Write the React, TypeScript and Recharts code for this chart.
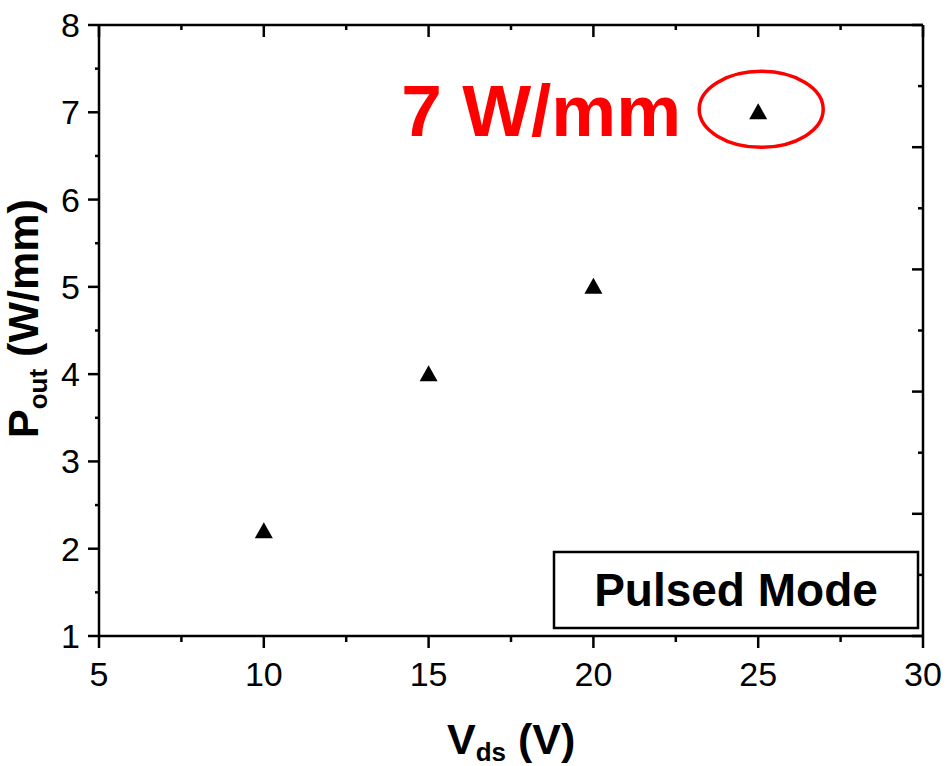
import React from 'react';
import { ScatterChart, Scatter, XAxis, YAxis, ReferenceDot } from 'recharts';

// measured points
const vds = [10, 15, 20, 25];
const pout = [2.2, 4.0, 5.0, 7.0];

const xTicks = [5, 7.5, 10, 12.5, 15, 17.5, 20, 22.5, 25, 27.5, 30];
const yTicks = [1, 1.5, 2, 2.5, 3, 3.5, 4, 4.5, 5, 5.5, 6, 6.5, 7, 7.5, 8];
const rightTicks = [0, 1, 2, 3, 4, 5, 6, 7, 8, 9, 10];

const peakX = 25;
const peakY = 7;
const peakText = '7 W/mm';
const modeText = 'Pulsed Mode';

const data = vds.map((v, i) => ({ x: v, y: pout[i] }));

const FONT = 'Arial, "Liberation Sans", Helvetica, sans-serif';
const AX = 2.5;

const BottomTick = ({ x, y, payload }: any) => {
  const major = payload.value % 5 === 0;
  return (
    <g>
      <line x1={x} x2={x} y1={y} y2={y + (major ? 12 : 6)} stroke="#000" strokeWidth={AX} />
      {major && (
        <text x={x} y={y + 50} textAnchor="middle" fontSize={34} fontFamily={FONT} fill="#000">
          {payload.value}
        </text>
      )}
    </g>
  );
};

// top frame: ticks point inward (down)
const TopTick = ({ x, y, payload }: any) => {
  const major = payload.value % 5 === 0;
  return <line x1={x} x2={x} y1={y} y2={y + (major ? 12 : 5)} stroke="#000" strokeWidth={AX} />;
};

const LeftTick = ({ x, y, payload }: any) => {
  const major = Number.isInteger(payload.value);
  return (
    <g>
      <line x1={x - (major ? 11 : 4)} x2={x} y1={y} y2={y} stroke="#000" strokeWidth={AX} />
      {major && (
        <text x={x - 19} y={y + 12} textAnchor="end" fontSize={34} fontFamily={FONT} fill="#000">
          {payload.value}
        </text>
      )}
    </g>
  );
};

// right frame: ticks point inward (left)
const RightTick = ({ x, y, payload }: any) => {
  const major = payload.value % 2 === 0;
  return <line x1={x - (major ? 11 : 5)} x2={x} y1={y} y2={y} stroke="#000" strokeWidth={AX} />;
};

const Triangle = ({ cx, cy }: any) => (
  <polygon points={`${cx},${cy - 9} ${cx + 9},${cy + 7} ${cx - 9},${cy + 7}`} fill="#000" />
);

const Nothing = () => <g />;

const PeakMark = ({ cx, cy }: any) => (
  <g>
    <ellipse cx={cx + 3} cy={cy - 3} rx={62} ry={38} fill="none" stroke="#ff0000" strokeWidth={3.5} />
    <text x={cx - 77} y={cy + 24} textAnchor="end" fontSize={73} fontWeight="bold" fontFamily={FONT} fill="#ff0000">
      {peakText}
    </text>
  </g>
);

export default function App() {
  return (
    <div style={{ position: 'absolute', left: 0, top: 0, width: 949, height: 766, background: '#fff' }}>
      <ScatterChart width={949} height={766} margin={{ top: 24, right: 25, bottom: 0, left: 0 }}>
        <XAxis
          type="number"
          dataKey="x"
          domain={[5, 30]}
          ticks={xTicks}
          height={130}
          tickSize={0}
          tickMargin={0}
          tickLine={false}
          axisLine={{ stroke: '#000', strokeWidth: AX }}
          tick={BottomTick}
          interval={0}
          allowDataOverflow
        />
        <XAxis
          xAxisId="top"
          orientation="top"
          type="number"
          dataKey="x"
          domain={[5, 30]}
          ticks={xTicks}
          height={1}
          tickSize={0}
          tickMargin={0}
          tickLine={false}
          axisLine={{ stroke: '#000', strokeWidth: AX }}
          tick={TopTick}
          interval={0}
          allowDataOverflow
        />
        <YAxis
          type="number"
          dataKey="y"
          domain={[1, 8]}
          ticks={yTicks}
          width={99}
          tickSize={0}
          tickMargin={0}
          tickLine={false}
          axisLine={{ stroke: '#000', strokeWidth: AX }}
          tick={LeftTick}
          interval={0}
          allowDataOverflow
        />
        <YAxis
          yAxisId="right"
          orientation="right"
          type="number"
          dataKey="y"
          domain={[0, 10]}
          ticks={rightTicks}
          width={1}
          tickSize={0}
          tickMargin={0}
          tickLine={false}
          axisLine={{ stroke: '#000', strokeWidth: AX }}
          tick={RightTick}
          interval={0}
          allowDataOverflow
        />
        <Scatter data={data} xAxisId="top" yAxisId="right" shape={Nothing} isAnimationActive={false} />
        <Scatter data={data} shape={Triangle} isAnimationActive={false} />
        <ReferenceDot x={peakX} y={peakY} shape={PeakMark} />
      </ScatterChart>
      <svg
        width={949}
        height={766}
        style={{ position: 'absolute', left: 0, top: 0, pointerEvents: 'none' }}
        fontFamily={FONT}
      >
        <rect x={554} y={552} width={364} height={76} fill="#fff" stroke="#000" strokeWidth={2.5} />
        <text x={736} y={606} textAnchor="middle" fontSize={46} fontWeight="bold" fill="#000">
          {modeText}
        </text>
        <text x={447} y={754} fontSize={43} fontWeight="bold" fill="#000">
          V<tspan fontSize={26} dy={7}>ds</tspan>
          <tspan dy={-7}> (V)</tspan>
        </text>
        <text transform="translate(38, 438) rotate(-90)" fontSize={43} fontWeight="bold" fill="#000">
          P<tspan fontSize={26} dy={9}>out</tspan>
          <tspan dy={-9}> (W/mm)</tspan>
        </text>
      </svg>
    </div>
  );
}
